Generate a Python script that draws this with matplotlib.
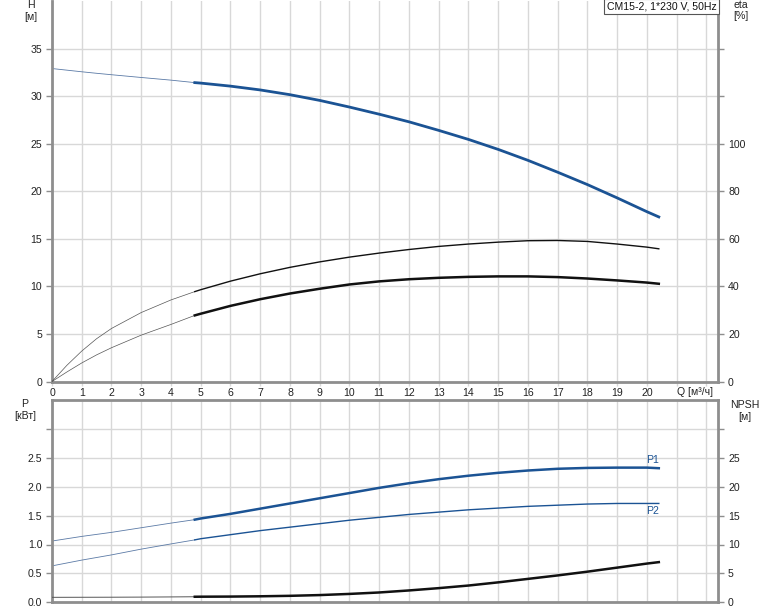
import numpy as np
import matplotlib
matplotlib.use('Agg')
import matplotlib.pyplot as plt

plt.rcParams['font.family'] = ['Liberation Sans', 'DejaVu Sans']
plt.rcParams['font.size'] = 7.6

# flow, m3/h (4.8 = start of the working range)
q = [0, 0.5, 1, 1.5, 2, 3, 4, 4.8, 5, 6, 7, 8, 9, 10, 11, 12, 13, 14, 15, 16, 17, 18, 19, 20, 20.4]
# head H, m
h = [32.9, 32.73, 32.56, 32.4, 32.25, 31.96, 31.68, 31.42, 31.37, 31.05, 30.65, 30.15, 29.55,
     28.85, 28.1, 27.3, 26.4, 25.45, 24.4, 23.25, 22.0, 20.7, 19.3, 17.85, 17.3]
# efficiencies, %
eta_pump = [0, 6.8, 12.8, 18, 22.3, 29, 34.3, 37.8, 38.6, 42.2, 45.3, 48, 50.3, 52.3, 54, 55.5,
            56.8, 57.8, 58.6, 59.2, 59.3, 58.9, 57.8, 56.5, 55.8]
eta_tot = [0, 4, 7.8, 11.2, 14.2, 19.5, 24, 27.8, 28.5, 31.8, 34.6, 37, 39, 40.8, 42.1, 43,
           43.6, 44, 44.2, 44.2, 43.9, 43.3, 42.5, 41.6, 41.1]
# power, kW
p1 = [1.06, 1.10, 1.14, 1.175, 1.21, 1.29, 1.37, 1.43, 1.45, 1.53, 1.62, 1.71, 1.80, 1.89,
      1.98, 2.06, 2.13, 2.19, 2.24, 2.28, 2.31, 2.325, 2.33, 2.33, 2.32]
p2 = [0.63, 0.68, 0.73, 0.775, 0.82, 0.92, 1.01, 1.08, 1.10, 1.17, 1.24, 1.30, 1.36, 1.42,
      1.47, 1.52, 1.56, 1.60, 1.63, 1.66, 1.68, 1.70, 1.71, 1.71, 1.71]
# NPSH, m
npsh = [0.86, 0.865, 0.87, 0.875, 0.88, 0.9, 0.93, 0.96, 0.97, 0.99, 1.04, 1.12, 1.25, 1.45,
        1.7, 2.05, 2.45, 2.9, 3.45, 4.05, 4.65, 5.3, 6.0, 6.7, 6.95]

q_ticks = list(range(0, 23))
q_labels = [str(i) for i in range(0, 21)] + ['', '']
title = 'CM15-2, 1*230 V, 50Hz'

blue = '#1b5394'
thin_blue = '#5b7aa6'
thin_black = '#555555'
spine_c = '#8e8e8e'
grid_c = '#d8d8d8'

q = np.array(q)
thin = q <= 4.8
thick = q >= 4.8

fig = plt.figure(figsize=(7.74, 6.11), dpi=100)
ax1 = fig.add_axes([52/774, 1 - 381.5/611, 666.3/774, 380.5/611])
ax2 = fig.add_axes([52/774, 1 - 602.3/611, 666.3/774, 202.3/611])


def style(ax):
    ax.set_xlim(0, 22.4)
    ax.set_xticks(q_ticks)
    ax.grid(True, color=grid_c, lw=1)
    ax.set_axisbelow(True)
    for s in ax.spines.values():
        s.set_color(spine_c)
        s.set_linewidth(2)
    ax.tick_params(axis='y', direction='out', length=4, width=1, color=spine_c,
                   labelcolor='#222222', pad=3)


style(ax1)
style(ax2)
ax1.spines['top'].set_visible(False)
ax1.tick_params(axis='x', length=3, width=1, color=grid_c, labelcolor='#222222', pad=2)
ax1.set_xticklabels(q_labels)
ax2.tick_params(axis='x', length=0, labelbottom=False)

# ---- top: H and eta
ax1.set_ylim(0, 40)
ax1.set_yticks(range(0, 40, 5))
ax1.plot(q[thin], np.array(h)[thin], color=thin_blue, lw=0.6)
ax1.plot(q[thick], np.array(h)[thick], color=blue, lw=2.0)

tw1 = ax1.twinx()
tw1.set_ylim(0, 160)
tw1.set_yticks(range(0, 160, 20))
tw1.set_yticklabels(['0', '20', '40', '60', '80', '100', '', ''])
for s in tw1.spines.values():
    s.set_visible(False)
tw1.tick_params(axis='y', direction='out', length=4, width=1, color=spine_c,
                labelcolor='#222222', pad=3)
tw1.plot(q[thin], np.array(eta_pump)[thin], color=thin_black, lw=0.5)
tw1.plot(q[thick], np.array(eta_pump)[thick], color='#111111', lw=1.0)
tw1.plot(q[thin], np.array(eta_tot)[thin], color=thin_black, lw=0.5)
tw1.plot(q[thick], np.array(eta_tot)[thick], color='#111111', lw=1.8)

ax1.text(0.997, 0.998, title, transform=ax1.transAxes, ha='right', va='top',
         color='#111111',
         bbox=dict(boxstyle='square,pad=0.25', fc='white', ec='#555555', lw=0.8))

# ---- bottom: P1, P2 and NPSH
ax2.set_ylim(0, 3.5)
ax2.set_yticks(np.arange(0, 3.01, 0.5))
ax2.set_yticklabels(['0.0', '0.5', '1.0', '1.5', '2.0', '2.5', ''])
ax2.plot(q[thin], np.array(p1)[thin], color=thin_blue, lw=0.6)
ax2.plot(q[thick], np.array(p1)[thick], color=blue, lw=1.8)
ax2.plot(q[thin], np.array(p2)[thin], color=thin_blue, lw=0.6)
ax2.plot(q[thick], np.array(p2)[thick], color=blue, lw=1.0)
ax2.text(q[-1], p1[-1] + 0.05, 'P1', color=blue, ha='right', va='bottom')
ax2.text(q[-1], p2[-1] - 0.05, 'P2', color=blue, ha='right', va='top')

tw2 = ax2.twinx()
tw2.set_ylim(0, 35)
tw2.set_yticks(range(0, 35, 5))
tw2.set_yticklabels(['0', '5', '10', '15', '20', '25', ''])
for s in tw2.spines.values():
    s.set_visible(False)
tw2.tick_params(axis='y', direction='out', length=4, width=1, color=spine_c,
                labelcolor='#222222', pad=3)
tw2.plot(q[thin], np.array(npsh)[thin], color=thin_black, lw=0.7)
tw2.plot(q[thick], np.array(npsh)[thick], color='#111111', lw=1.8)

# axis captions
tc = '#222222'
fig.text(31/774, 1 - 5/611, 'H', ha='center', va='center', color=tc)
fig.text(31/774, 1 - 17/611, '[м]', ha='center', va='center', color=tc)
fig.text(741/774, 1 - 5/611, 'eta', ha='center', va='center', color=tc)
fig.text(741/774, 1 - 16/611, '[%]', ha='center', va='center', color=tc)
fig.text(695/774, 1 - 392/611, 'Q [м³/ч]', ha='center', va='center', color=tc)
fig.text(25/774, 1 - 404/611, 'P', ha='center', va='center', color=tc)
fig.text(25/774, 1 - 416/611, '[кВт]', ha='center', va='center', color=tc)
fig.text(745/774, 1 - 405/611, 'NPSH', ha='center', va='center', color=tc)
fig.text(745/774, 1 - 417/611, '[м]', ha='center', va='center', color=tc)

fig.savefig('out.png', dpi=100)
